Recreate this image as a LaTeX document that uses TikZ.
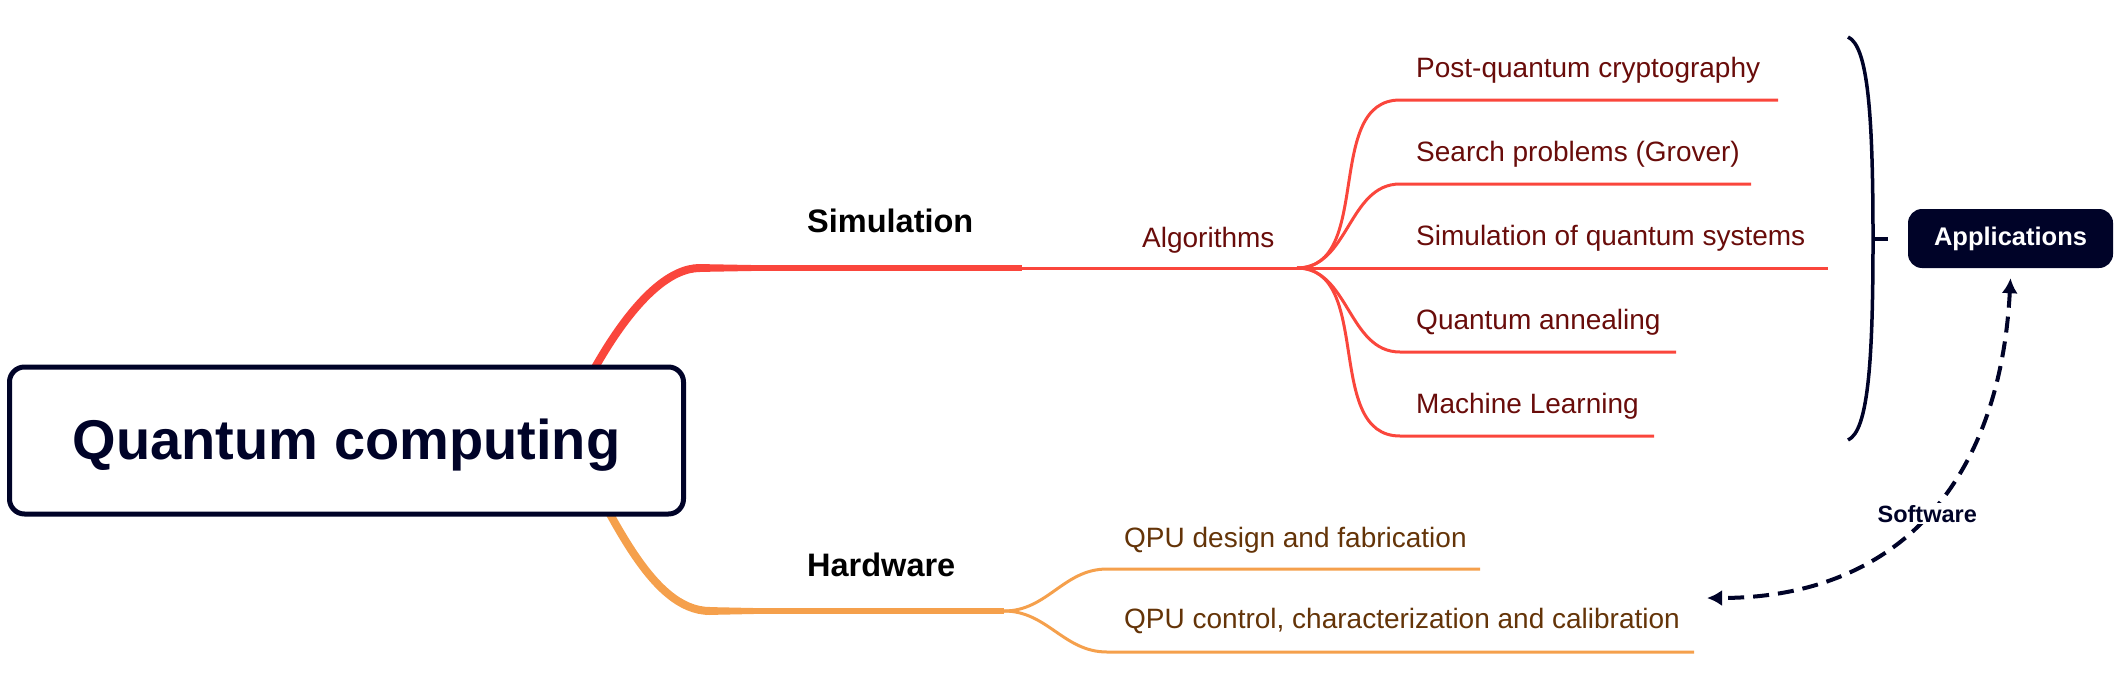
\documentclass[tikz,border=0pt]{standalone}
\usepackage{fontspec}
\setmainfont{Liberation Sans}
\usetikzlibrary{arrows.meta,backgrounds}
\definecolor{mmred}{RGB}{250,70,60}
\definecolor{mmorange}{RGB}{245,160,76}
\definecolor{mmnavy}{RGB}{0,3,40}
\definecolor{mmmaroon}{RGB}{105,12,10}
\definecolor{mmbrown}{RGB}{100,52,8}

\begin{document}
\begin{tikzpicture}[
    x=1pt, y=-1pt,
    rootbox/.style={draw=mmnavy, fill=white, line width=5pt, rounded corners=15pt, minimum width=674pt, minimum height=147pt, text height=42pt, text depth=5pt, text=mmnavy, font=\fontsize{56}{60}\selectfont\bfseries},
    appbox/.style={fill=mmnavy, rounded corners=14pt, minimum width=205pt, minimum height=59pt, text=white, font=\fontsize{25.5}{28}\selectfont\bfseries},
    branch/.style={anchor=base west, inner sep=0pt, font=\fontsize{32.5}{36}\selectfont\bfseries},
    redleaf/.style={anchor=base west, inner sep=0pt, text=mmmaroon, font=\fontsize{28}{32}\selectfont},
    orgleaf/.style={anchor=base west, inner sep=0pt, text=mmbrown, font=\fontsize{28}{32}\selectfont},
    trunk/.style={line width=8pt},
    limb/.style={line width=5.5pt},
    twig/.style={line width=3pt},
    brace/.style={draw=mmnavy, line width=3.5pt},
    swarrow/.style={draw=mmnavy, line width=4pt, dash pattern=on 16pt off 9pt, {Latex[length=15pt,width=16pt]}-{Latex[length=15pt,width=16pt]}},
    swlabel/.style={fill=white, inner sep=2pt, text=mmnavy, font=\fontsize{23.5}{26}\selectfont\bfseries},
  ]
    \useasboundingbox (0,0) rectangle (2119,688);

    % === Root ===
    \node[rootbox] (root) at (346.5,440.5) {Quantum computing};

    % === Simulation branch ===
    \node[branch] (sim) at (807,232) {Simulation};
    \coordinate (simfrom) at (560,440);
    \coordinate (simknee) at (700,268);
    \coordinate (simend) at (1022,268);
    \coordinate (algfork) at (1297,268);
    \node[redleaf] (alg) at (1142,247) {Algorithms};

    \begin{scope}[on background layer]
      \draw[trunk, mmred] (simfrom) .. controls (580,390) and (640,268) .. (simknee);
    \end{scope}
    \fill[mmred] (696,264) -- (765,265.25) -- (765,270.75) -- (696,272) -- cycle;
    \draw[limb, mmred] (simknee) -- (simend);
    \draw[twig, mmred] (simend) -- (algfork);

    % algorithm leaves
    \foreach \y/\xe/\nm/\txt in {100/1778/pqc/Post-quantum cryptography,
                                184/1751/grv/Search problems (Grover),
                                268/1828/sqs/Simulation of quantum systems,
                                352/1676/qan/Quantum annealing,
                                436/1654/mln/Machine Learning} {
      \coordinate (\nm s) at (1400,\y);
      \coordinate (\nm e) at (\xe,\y);
      \node[redleaf] (\nm) at (1416,\y-23) {\txt};
      \draw[twig, mmred] (algfork) to[out=0, in=180] (\nm s) -- (\nm e);
    }

    % === Hardware branch ===
    \node[branch] (hw) at (807,576) {Hardware};
    \coordinate (hwfrom) at (570,440);
    \coordinate (hwknee) at (710,611);
    \coordinate (hwfork) at (1004,611);

    \begin{scope}[on background layer]
      \draw[trunk, mmorange] (hwfrom) .. controls (610,510) and (650,611) .. (hwknee);
    \end{scope}
    \fill[mmorange] (706,607) -- (765,608.25) -- (765,613.75) -- (706,615) -- cycle;
    \draw[limb, mmorange] (hwknee) -- (hwfork);

    % hardware leaves
    \coordinate (qpuds) at (1107,569);
    \coordinate (qpude) at (1480,569);
    \coordinate (qpucs) at (1107,652);
    \coordinate (qpuce) at (1694,652);
    \node[orgleaf] (qpud) at (1124,547) {QPU design and fabrication};
    \node[orgleaf] (qpuc) at (1124,628) {QPU control, characterization and calibration};
    \draw[twig, mmorange] (hwfork) to[out=0, in=180] (qpuds) -- (qpude);
    \draw[twig, mmorange] (hwfork) to[out=0, in=180] (qpucs) -- (qpuce);

    % === Applications ===
    \coordinate (bractop) at (1848,37);
    \coordinate (bracmid) at (1873,239);
    \coordinate (bracbot) at (1848,440);
    \coordinate (bractick) at (1888,239);
    \draw[brace] (bractop) .. controls (1868,46) and (1873,115) .. (bracmid)
                 .. controls (1873,363) and (1868,431) .. (bracbot);
    \draw[brace] (bracmid) -- (bractick);

    \node[appbox] (apps) at (2010.5,238.5) {Applications};

    % Software arrow
    \coordinate (swend) at (1707,598);
    \draw[swarrow] ([yshift=-10pt]apps.south) .. controls (2000,480) and (1900,598) .. (swend)
      node[pos=0.5, swlabel] (sw) {Software};
  \end{tikzpicture}
\end{document}
